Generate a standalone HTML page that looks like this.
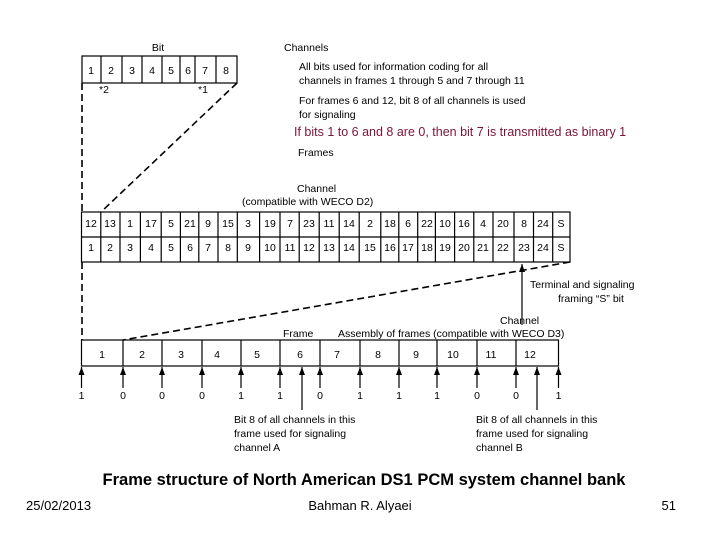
<!DOCTYPE html>
<html><head><meta charset="utf-8"><style>
body{margin:0;background:#fff;}
svg{display:block;}
.t{font-family:"Liberation Sans",sans-serif;font-size:10.5px;fill:#000;}
.c{text-anchor:middle;}
</style></head><body>
<svg width="720" height="540" viewBox="0 0 720 540" xmlns="http://www.w3.org/2000/svg">
<defs><marker id="ah" markerWidth="9" markerHeight="6" refX="8" refY="3" orient="auto" markerUnits="userSpaceOnUse"><path d="M0,0 L8,3 L0,6 Z" fill="#000" stroke="none"/></marker></defs>
<g stroke="#000" stroke-width="1.2" fill="none">
<rect x="82" y="56" width="155" height="27"/>
<path d="M101,56V83M122,56V83M142,56V83M162,56V83M180,56V83M195,56V83M216,56V83"/>
<rect x="81.5" y="212" width="488.5" height="50"/>
<path d="M81.5,237H570"/>
<path d="M100.8,212V262M120,212V262M140.4,212V262M161.2,212V262M180.4,212V262M198.8,212V262M218,212V262M237.3,212V262M259.6,212V262M280,212V262M299.2,212V262M319.2,212V262M339.2,212V262M359.2,212V262M380.8,212V262M398.8,212V262M417.7,212V262M435.4,212V262M454.6,212V262M473.8,212V262M493,212V262M514,212V262M533.5,212V262M552.7,212V262"/>
<rect x="81.5" y="340" width="477" height="26"/>
<path d="M123,340V366M162,340V366M202,340V366M241,340V366M280,340V366M320,340V366M360,340V366M399,340V366M437,340V366M477,340V366M516,340V366"/>
</g>
<g stroke="#000" stroke-width="1.6" fill="none" stroke-dasharray="7,4">
<path d="M82,83V212M82,262V340"/>
<path d="M237,83L101,212"/>
<path d="M570,262L123,340"/>
</g>
<g stroke="#000" stroke-width="1.2" fill="none">
<path d="M522,325V264" marker-end="url(#ah)"/>
<g marker-end="url(#ah)">
<path d="M81.5,388V367"/><path d="M123,388V367"/><path d="M162,388V367"/><path d="M202,388V367"/><path d="M241,388V367"/><path d="M280,388V367"/><path d="M320,388V367"/><path d="M360,388V367"/><path d="M399,388V367"/><path d="M437,388V367"/><path d="M477,388V367"/><path d="M516,388V367"/><path d="M558.5,388V367"/>
<path d="M302,410V367"/><path d="M537,410V367"/>
</g>
</g>
<g class="t c">
<text x="158" y="51">Bit</text>
<text x="91" y="74">1</text><text x="111" y="74">2</text><text x="132" y="74">3</text><text x="152" y="74">4</text><text x="171" y="74">5</text><text x="188" y="74">6</text><text x="205" y="74">7</text><text x="226" y="74">8</text>
<text x="104" y="93">*2</text><text x="203" y="93">*1</text>
<text x="91" y="227">12</text><text x="110" y="227">13</text><text x="130" y="227">1</text><text x="151" y="227">17</text><text x="171" y="227">5</text><text x="190" y="227">21</text><text x="208" y="227">9</text><text x="228" y="227">15</text><text x="248" y="227">3</text><text x="270" y="227">19</text><text x="290" y="227">7</text><text x="309" y="227">23</text><text x="329" y="227">11</text><text x="349" y="227">14</text><text x="370" y="227">2</text><text x="390" y="227">18</text><text x="408" y="227">6</text><text x="427" y="227">22</text><text x="445" y="227">10</text><text x="464" y="227">16</text><text x="483" y="227">4</text><text x="503" y="227">20</text><text x="524" y="227">8</text><text x="543" y="227">24</text><text x="561" y="227">S</text>
<text x="91" y="251">1</text><text x="110" y="251">2</text><text x="130" y="251">3</text><text x="151" y="251">4</text><text x="171" y="251">5</text><text x="190" y="251">6</text><text x="208" y="251">7</text><text x="228" y="251">8</text><text x="248" y="251">9</text><text x="270" y="251">10</text><text x="290" y="251">11</text><text x="309" y="251">12</text><text x="329" y="251">13</text><text x="349" y="251">14</text><text x="370" y="251">15</text><text x="390" y="251">16</text><text x="408" y="251">17</text><text x="427" y="251">18</text><text x="445" y="251">19</text><text x="464" y="251">20</text><text x="483" y="251">21</text><text x="503" y="251">22</text><text x="524" y="251">23</text><text x="543" y="251">24</text><text x="561" y="251">S</text>
<text x="102" y="358">1</text><text x="142" y="358">2</text><text x="181" y="358">3</text><text x="217" y="358">4</text><text x="257" y="358">5</text><text x="300" y="358">6</text><text x="337" y="358">7</text><text x="378" y="358">8</text><text x="416" y="358">9</text><text x="453" y="358">10</text><text x="491" y="358">11</text><text x="530" y="358">12</text>
<text x="81.5" y="399">1</text><text x="123" y="399">0</text><text x="162" y="399">0</text><text x="202" y="399">0</text><text x="241" y="399">1</text><text x="280" y="399">1</text><text x="320" y="399">0</text><text x="360" y="399">1</text><text x="399" y="399">1</text><text x="437" y="399">1</text><text x="477" y="399">0</text><text x="516" y="399">0</text><text x="558.5" y="399">1</text>
</g>
<g class="t">
<text x="284" y="51">Channels</text>
<text x="299" y="70">All bits used for information coding for all</text>
<text x="299" y="84">channels in frames 1 through 5 and 7 through 11</text>
<text x="299" y="104">For frames 6 and 12, bit 8 of all channels is used</text>
<text x="299" y="118">for signaling</text>
<text x="294" y="136" style="font-size:12.5px;fill:#7a1436">If bits 1 to 6 and 8 are 0, then bit 7 is transmitted as binary 1</text>
<text x="298" y="156">Frames</text>
<text x="297" y="192">Channel</text>
<text x="242" y="205">(compatible with WECO D2)</text>
<text x="283" y="337">Frame</text>
<text x="338" y="337">Assembly of frames  (compatible with WECO D3)</text>
<text x="530" y="288">Terminal and signaling</text>
<text x="558" y="302">framing “S” bit</text>
<text x="500" y="324">Channel</text>
<text x="234" y="423">Bit 8 of all channels in this</text>
<text x="234" y="437">frame used for signaling</text>
<text x="234" y="451">channel A</text>
<text x="476" y="423">Bit 8 of all channels in this</text>
<text x="476" y="437">frame used for signaling</text>
<text x="476" y="451">channel B</text>
</g>
<text x="364" y="485" text-anchor="middle" style="font-family:'Liberation Sans',sans-serif;font-weight:bold;font-size:16.5px">Frame structure of North American DS1 PCM system channel bank</text>
<g style="font-family:'Liberation Sans',sans-serif;font-size:13px">
<text x="26" y="510">25/02/2013</text>
<text x="360" y="510" text-anchor="middle">Bahman R. Alyaei</text>
<text x="676" y="510" text-anchor="end">51</text>
</g>
</svg>
</body></html>
